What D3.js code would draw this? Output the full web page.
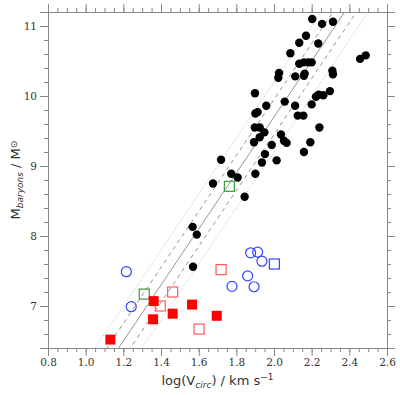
<!DOCTYPE html>
<html>
<head>
<meta charset="utf-8">
<script src="https://cdn.jsdelivr.net/npm/d3@7"></script>
<style>
  body { margin: 0; background: #fff; }
  svg { display: block; }
</style>
</head>
<body>
<script>
// log(Vcirc), log(Mbaryons)
const blackX = [2.203, 2.255, 2.313, 2.170, 2.134, 2.235, 2.087, 2.457, 2.487, 2.134,
    2.159, 2.182, 2.200, 2.027, 2.023, 2.113, 2.163, 2.159, 2.310, 2.313,
    1.899, 2.297, 2.223, 2.237, 2.262, 2.057, 2.200, 1.901, 1.913, 1.959,
    2.112, 2.126, 2.156, 1.898, 1.924, 2.241, 1.949, 1.924, 2.037, 1.894,
    2.053, 2.067, 1.988, 2.193, 1.952, 2.159, 1.936, 2.014, 1.719, 1.901,
    1.773, 1.807, 1.676, 1.844, 1.568, 1.590, 1.570];
const blackY = [11.10, 11.03, 11.06, 10.86, 10.76, 10.75, 10.61, 10.53, 10.58, 10.46,
    10.48, 10.48, 10.48, 10.33, 10.26, 10.28, 10.32, 10.29, 10.36, 10.31,
    10.04, 10.07, 9.99, 10.02, 10.01, 9.92, 9.88, 9.75, 9.77, 9.86,
    9.86, 9.72, 9.72, 9.55, 9.55, 9.55, 9.48, 9.41, 9.45, 9.34,
    9.36, 9.33, 9.30, 9.34, 9.17, 9.20, 9.05, 9.08, 9.09, 8.89,
    8.89, 8.835, 8.75, 8.56, 8.13, 8.02, 7.56];

const blueCircX = [1.216, 1.242, 1.876, 1.913, 1.936, 1.860, 1.777, 1.894];
const blueCircY = [7.49, 6.99, 7.76, 7.77, 7.64, 7.43, 7.28, 7.275];
const blueSqX = [2.002];
const blueSqY = [7.60];

const greenSqX = [1.763, 1.311];
const greenSqY = [8.71, 7.17];

const redFillX = [1.131, 1.361, 1.358, 1.462, 1.565, 1.696];
const redFillY = [6.52, 7.07, 6.81, 6.89, 7.02, 6.86];
const redOpenX = [1.719, 1.462, 1.396, 1.602];
const redOpenY = [7.52, 7.20, 7.00, 6.67];

// relation log M = slope * log V + zero, with scatter bands
const slope = 4;
const zero = 1.7;
const bands = [
    { off: 0, dash: null, color: '#888' },
    { off: 0.25, dash: '4,4', color: '#888' },
    { off: -0.25, dash: '4,4', color: '#888' },
    { off: 0.5, dash: '1,2', color: '#b0b0b0' },
    { off: -0.5, dash: '1,2', color: '#b0b0b0' },
];

const xTicks = [0.8, 1.0, 1.2, 1.4, 1.6, 1.8, 2.0, 2.2, 2.4, 2.6];
const yTicks = [7, 8, 9, 10, 11];

const width = 400, height = 395;
const m = { left: 48, right: 13, top: 12, bottom: 47 };

const svg = d3.select('body').append('svg')
    .attr('width', width)
    .attr('height', height);

const x = d3.scaleLinear().domain([0.8, 2.6]).range([m.left, width - m.right]);
const y = d3.scaleLinear().domain([6.4, 11.2]).range([height - m.bottom, m.top]);

svg.append('clipPath').attr('id', 'clip')
    .append('rect')
    .attr('x', m.left).attr('y', m.top)
    .attr('width', x.range()[1] - m.left)
    .attr('height', y.range()[0] - m.top);

// axes: ticks point outward on all four sides
const axisColor = '#888';
const xMinor = d3.range(0.8, 2.6001, 0.05);
const yMinor = d3.range(6.4, 11.2001, 0.2);

function drawAxis(makeAxis, transform, minor, major, fmt) {
    const gMinor = svg.append('g').attr('transform', transform)
        .call(makeAxis().tickValues(minor).tickSize(4).tickFormat(''));
    const gMajor = svg.append('g').attr('transform', transform)
        .call(makeAxis().tickValues(major).tickSize(8).tickPadding(3)
            .tickFormat(fmt ? d3.format(fmt) : ''));
    [gMinor, gMajor].forEach(g => {
        g.selectAll('path, line').attr('stroke', axisColor);
        g.selectAll('text')
            .attr('fill', '#333')
            .style('font-family', '"DejaVu Serif", serif')
            .style('font-size', '10.5px');
    });
}

drawAxis(() => d3.axisBottom(x), `translate(0,${y.range()[0]})`, xMinor, xTicks, '.1f');
drawAxis(() => d3.axisTop(x), `translate(0,${m.top})`, xMinor, xTicks, null);
drawAxis(() => d3.axisLeft(y), `translate(${m.left},0)`, yMinor, yTicks, 'd');
drawAxis(() => d3.axisRight(y), `translate(${x.range()[1]},0)`, yMinor, yTicks, null);

// relation lines
const plot = svg.append('g').attr('clip-path', 'url(#clip)');
const line = d3.line().x(d => x(d[0])).y(d => y(d[1]));

plot.selectAll('path.rel')
    .data(bands).enter()
    .append('path')
    .attr('class', 'rel')
    .attr('d', b => line([[0.8, slope * 0.8 + zero + b.off], [2.6, slope * 2.6 + zero + b.off]]))
    .attr('fill', 'none')
    .attr('stroke', b => b.color)
    .attr('stroke-width', 0.9)
    .attr('stroke-dasharray', b => b.dash);

const pts = (xs, ys) => xs.map((v, i) => [v, ys[i]]);

function squares(data, size, fill, stroke) {
    plot.append('g').selectAll('rect')
        .data(data).enter()
        .append('rect')
        .attr('x', d => x(d[0]) - size / 2)
        .attr('y', d => y(d[1]) - size / 2)
        .attr('width', size)
        .attr('height', size)
        .attr('fill', fill)
        .attr('stroke', stroke)
        .attr('stroke-width', 1.2);
}

function circles(data, r, fill, stroke) {
    plot.append('g').selectAll('circle')
        .data(data).enter()
        .append('circle')
        .attr('cx', d => x(d[0]))
        .attr('cy', d => y(d[1]))
        .attr('r', r)
        .attr('fill', fill)
        .attr('stroke', stroke)
        .attr('stroke-width', 1.2);
}

circles(pts(blackX, blackY), 4.2, '#000', 'none');
circles(pts(blueCircX, blueCircY), 5, 'none', '#3344ff');
squares(pts(blueSqX, blueSqY), 10, 'none', '#3344ff');
squares(pts(greenSqX, greenSqY), 10, 'none', '#3a9a3a');
squares(pts(redOpenX, redOpenY), 10, 'none', '#ff5a5a');
squares(pts(redFillX, redFillY), 10, '#ff0000', 'none');

// axis titles
const xt = svg.append('text')
    .attr('x', (m.left + x.range()[1]) / 2)
    .attr('y', 385)
    .attr('text-anchor', 'middle')
    .attr('fill', '#333')
    .style('font-family', '"DejaVu Sans", sans-serif')
    .style('font-size', '13px');
xt.append('tspan').text('log(V');
xt.append('tspan').attr('dy', 3).style('font-size', '9px').style('font-style', 'italic').text('circ');
xt.append('tspan').attr('dy', -3).text(') / km s');
xt.append('tspan').attr('dy', -5).style('font-size', '9px').text('\u22121');

const yt = svg.append('text')
    .attr('transform', `translate(20,${(m.top + y.range()[0]) / 2}) rotate(-90)`)
    .attr('text-anchor', 'middle')
    .attr('fill', '#333')
    .style('font-family', '"DejaVu Sans", sans-serif')
    .style('font-size', '13px');
yt.append('tspan').text('M');
yt.append('tspan').attr('dy', 3).style('font-size', '9px').style('font-style', 'italic').text('baryons');
yt.append('tspan').attr('dy', -3).text(' / M');
yt.append('tspan').attr('dy', -3).style('font-size', '9px').text('\u2299');
</script>
</body>
</html>
